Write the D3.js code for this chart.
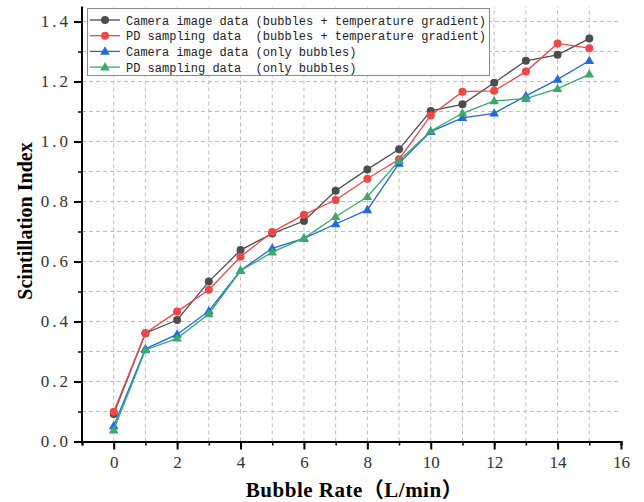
<!DOCTYPE html>
<html><head><meta charset="utf-8">
<script src="https://cdn.jsdelivr.net/npm/d3@7"></script>
<style>
html,body{margin:0;padding:0;background:#fff;}
svg{display:block;}
</style></head>
<body>
<script>
const xValues = [0,1,2,3,4,5,6,7,8,9,10,11,12,13,14,15];
const cameraTemp = [0.092,0.361,0.405,0.533,0.638,0.693,0.735,0.836,0.907,0.974,1.102,1.124,1.196,1.269,1.289,1.343];
const pdTemp     = [0.099,0.361,0.433,0.506,0.616,0.698,0.756,0.805,0.876,0.941,1.087,1.166,1.169,1.233,1.327,1.311];
const cameraOnly = [0.052,0.309,0.357,0.435,0.570,0.644,0.677,0.725,0.772,0.927,1.033,1.079,1.094,1.152,1.207,1.269];
const pdOnly     = [0.038,0.305,0.344,0.425,0.569,0.631,0.678,0.749,0.816,0.936,1.035,1.094,1.135,1.143,1.176,1.224];
const seriesNames = [
  "Camera image data (bubbles + temperature gradient)",
  "PD sampling data  (bubbles + temperature gradient)",
  "Camera image data (only bubbles)",
  "PD sampling data  (only bubbles)"
];
const seriesColors = ["#4d4d4d","#f04646","#2069de","#3aa96a"];
const seriesShapes = ["circle","circle","triangle","triangle"];
const xTicks = [0,2,4,6,8,10,12,14,16];
const yTicks = [0,0.2,0.4,0.6,0.8,1.0,1.2,1.4];
const xLabel = "Bubble Rate（L/min）";
const yLabel = "Scintillation Index";

const W = 644, H = 502;
const svg = d3.select("body").append("svg").attr("width",W).attr("height",H);

const x = d3.scaleLinear().domain([-1,16]).range([82,621]);
const y = d3.scaleLinear().domain([0,1.45]).range([441.5,6.5]);

// grid
const grid = svg.append("g").attr("stroke","#bdbdbd").attr("stroke-width",1).attr("stroke-dasharray","4,3");
d3.range(1,15).map(i=>i/10).forEach(v=>{
  grid.append("line").attr("x1",x(-1)).attr("x2",x(16)).attr("y1",y(v)).attr("y2",y(v));
});
d3.range(0,16).forEach(v=>{
  grid.append("line").attr("x1",x(v)).attr("x2",x(v)).attr("y1",y(0)).attr("y2",y(1.45));
});

const serif = "'Liberation Serif','Noto Sans CJK SC',serif";

// x axis
const xAxisG = svg.append("g").attr("transform",`translate(0,${y(0)})`);
xAxisG.call(d3.axisBottom(x).tickValues(d3.range(-1,17)).tickSize(4).tickFormat(""));
xAxisG.call(g=>{
  g.select(".domain").attr("stroke","#000").attr("stroke-width",2);
  g.selectAll(".tick line").attr("stroke","#000").attr("stroke-width",1.5);
});
const xMajor = svg.append("g").attr("transform",`translate(0,${y(0)})`)
  .call(d3.axisBottom(x).tickValues(xTicks).tickSize(8).tickPadding(6).tickFormat(d3.format("d")));
xMajor.select(".domain").remove();
xMajor.selectAll(".tick line").attr("stroke","#000").attr("stroke-width",2);
xMajor.selectAll(".tick text").attr("font-family",serif).attr("font-size",17).attr("fill","#333");

// y axis
const yAxisG = svg.append("g").attr("transform",`translate(${x(-1)},0)`);
yAxisG.call(d3.axisLeft(y).tickValues(d3.range(0,15).map(i=>i/10)).tickSize(4).tickFormat(""));
yAxisG.select(".domain").attr("stroke","#000").attr("stroke-width",2).attr("d",`M0,${y(0)}V${y(1.45)}`);
yAxisG.selectAll(".tick line").attr("stroke","#000").attr("stroke-width",1.5);
const yMajor = svg.append("g").attr("transform",`translate(${x(-1)},0)`)
  .call(d3.axisLeft(y).tickValues(yTicks).tickSize(8).tickPadding(3).tickFormat(d3.format(".1f")));
yMajor.select(".domain").remove();
yMajor.selectAll(".tick line").attr("stroke","#000").attr("stroke-width",2);
yMajor.selectAll(".tick text").attr("font-family",serif).attr("font-size",17).attr("fill","#333").attr("letter-spacing","3px");

// axis titles
svg.append("text").attr("x",(x(-1)+x(16))/2+3).attr("y",497).attr("text-anchor","middle")
  .attr("font-family",serif).attr("font-weight","bold").attr("font-size",21).attr("letter-spacing","0.5px").text(xLabel);
svg.append("text").attr("transform",`translate(32,221) rotate(-90)`).attr("text-anchor","middle")
  .attr("font-family",serif).attr("font-weight","bold").attr("font-size",20).text(yLabel);

// series
const allSeries = [cameraTemp,pdTemp,cameraOnly,pdOnly];
const line = d3.line().x((d,i)=>x(xValues[i])).y(d=>y(d));
const triangle = d3.symbol().type(d3.symbolTriangle).size(40);
function drawMarker(g, shape, cx, cy, color){
  if(shape==="circle"){
    g.append("circle").attr("cx",cx).attr("cy",cy).attr("r",4).attr("fill",color);
  } else {
    g.append("path").attr("d",triangle()).attr("transform",`translate(${cx},${cy+0.5})`).attr("fill",color);
  }
}
allSeries.forEach((vals,si)=>{
  const g = svg.append("g");
  g.append("path").datum(vals).attr("d",line).attr("fill","none").attr("stroke",seriesColors[si]).attr("stroke-width",1.3);
  vals.forEach((v,i)=>drawMarker(g, seriesShapes[si], x(xValues[i]), y(v), seriesColors[si]));
});

// legend
const lg = svg.append("g");
lg.append("rect").attr("x",87.5).attr("y",8.5).attr("width",402).attr("height",67).attr("fill","#fff").attr("stroke","#8a8a8a").attr("stroke-width",1);
seriesNames.forEach((name,i)=>{
  const yy = 20 + i*15.7;
  lg.append("line").attr("x1",90).attr("x2",120).attr("y1",yy).attr("y2",yy).attr("stroke",seriesColors[i]).attr("stroke-width",1.3);
  drawMarker(lg, seriesShapes[i], 105, yy, seriesColors[i]);
  lg.append("text").attr("x",126).attr("y",yy+4.5).attr("font-family","'Liberation Mono','DejaVu Sans Mono',monospace")
    .attr("font-size",12).attr("fill","#222").style("white-space","pre").attr("xml:space","preserve").text(name);
});
</script>
</body></html>
